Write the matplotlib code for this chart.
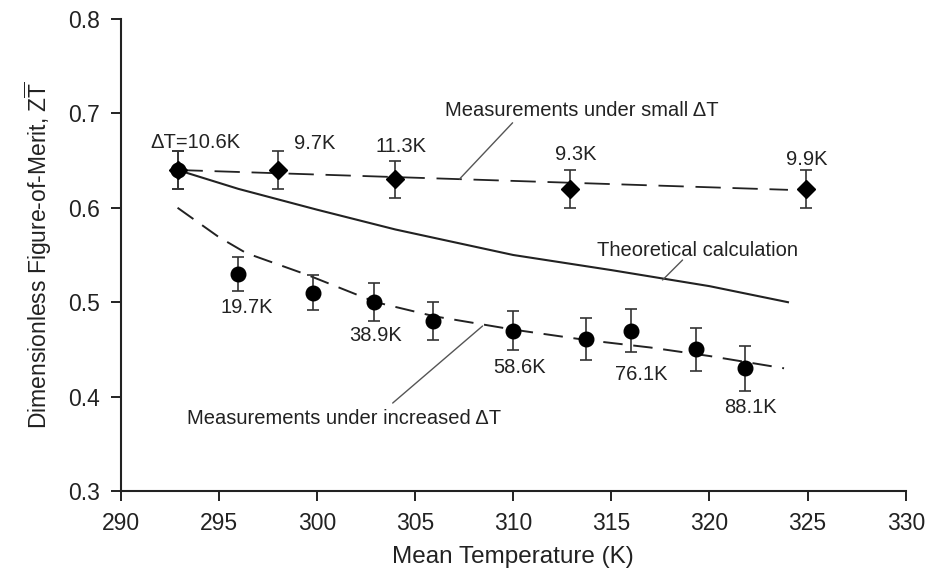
import numpy as np
import matplotlib
matplotlib.use("Agg")
import matplotlib.pyplot as plt

plt.rcParams["font.family"] = ["Liberation Sans", "DejaVu Sans"]
plt.rcParams["mathtext.fontset"] = "custom"
plt.rcParams["mathtext.rm"] = "Liberation Sans"
plt.rcParams["mathtext.it"] = "Liberation Sans"

# --- measurements under small dT (diamonds) ---
small_T = [292.9, 298.0, 304.0, 312.9, 324.9]
small_zt = [0.64, 0.64, 0.63, 0.62, 0.62]
small_err = [0.02, 0.02, 0.02, 0.02, 0.02]
small_labels = ["\u0394T=10.6K", "9.7K", "11.3K", "9.3K", "9.9K"]
small_label_T = [293.8, 299.9, 304.3, 313.2, 324.95]
small_label_zt = [0.669, 0.668, 0.665, 0.656, 0.651]

# --- measurements under increased dT (circles) ---
inc_T = [292.9, 296.0, 299.8, 302.9, 305.9, 310.0, 313.7, 316.0, 319.3, 321.8]
inc_zt = [0.64, 0.53, 0.51, 0.50, 0.48, 0.47, 0.461, 0.47, 0.45, 0.43]
inc_err = [0.02, 0.018, 0.0185, 0.02, 0.02, 0.021, 0.0225, 0.023, 0.023, 0.024]
inc_labels = ["19.7K", "38.9K", "58.6K", "76.1K", "88.1K"]
inc_label_T = [296.4, 303.0, 310.3, 316.5, 322.1]
inc_label_zt = [0.494, 0.465, 0.431, 0.423, 0.389]

# --- fitted / theoretical curves ---
small_fit_T = [292.9, 324.0]
small_fit_zt = [0.64, 0.619]
inc_fit_T = [292.9, 295.0, 296.4, 299.5, 303.0, 306.0, 310.0, 313.7, 317.0, 320.0, 323.8]
inc_fit_zt = [0.600, 0.569, 0.552, 0.529, 0.500, 0.485, 0.471, 0.460, 0.452, 0.443, 0.430]
theo_T = [292.9, 296.0, 300.0, 304.0, 310.0, 315.0, 320.0, 324.0]
theo_zt = [0.640, 0.620, 0.598, 0.577, 0.550, 0.534, 0.517, 0.500]

# --- callouts: text, text position, leader line (from, to) ---
callouts = [
    ("Measurements under small \u0394T", (313.5, 0.703), (309.97, 0.690), (307.27, 0.6305)),
    ("Theoretical calculation", (319.4, 0.555), (318.63, 0.5447), (317.61, 0.5235)),
    ("Measurements under increased \u0394T", (301.4, 0.377), (303.86, 0.3932), (308.44, 0.4748)),
]

INK = "#222222"
fig = plt.figure(figsize=(9.28, 5.73), dpi=100)
ax = fig.add_axes([0.130, 0.143, 0.846, 0.824])

ax.plot(theo_T, theo_zt, color=INK, lw=1.5)
ax.plot(small_fit_T, small_fit_zt, color=INK, lw=1.3, dashes=(14, 6.5))
ax.plot(inc_fit_T, inc_fit_zt, color=INK, lw=1.4, dashes=(10, 5.5))

ax.errorbar(inc_T, inc_zt, yerr=inc_err, fmt="o", color="black", ms=10.5,
            ecolor="#333333", elinewidth=1.2, capsize=4.5, capthick=1.2, zorder=3)
ax.errorbar(small_T, small_zt, yerr=small_err, fmt="D", color="black", ms=9,
            ecolor="#333333", elinewidth=1.2, capsize=4.5, capthick=1.2, zorder=4)

for t, z, lab in zip(small_label_T, small_label_zt, small_labels):
    ax.text(t, z, lab, ha="center", va="center", fontsize=14.5, color=INK)
for t, z, lab in zip(inc_label_T, inc_label_zt, inc_labels):
    ax.text(t, z, lab, ha="center", va="center", fontsize=14.5, color=INK)

for txt, pos, p0, p1 in callouts:
    ax.text(pos[0], pos[1], txt, ha="center", va="center", fontsize=14.5, color=INK)
    ax.annotate("", xy=p1, xytext=p0,
                arrowprops=dict(arrowstyle="-", color="#555555", lw=1.0,
                                shrinkA=0, shrinkB=0))

ax.set_xlim(290, 330)
ax.set_ylim(0.3, 0.8)
ax.set_xticks(np.arange(290, 331, 5))
yt = np.arange(0.3, 0.81, 0.1)
ax.set_yticks(yt)
ax.set_yticklabels([f"{v:.1f}" for v in yt])
ax.tick_params(labelsize=16.5, length=7, width=1.4, colors=INK)
ax.tick_params(axis="x", pad=8)
ax.tick_params(axis="y", pad=8)
ax.spines["top"].set_visible(False)
ax.spines["right"].set_visible(False)
for s in ("left", "bottom"):
    ax.spines[s].set_linewidth(1.5)
    ax.spines[s].set_color(INK)

ax.set_xlabel("Mean Temperature (K)", fontsize=17.5, color=INK, labelpad=8)
ax.set_ylabel(r"Dimensionless Figure-of-Merit, $\mathrm{Z}\overline{\mathrm{T}}$",
              fontsize=16.5, color=INK, labelpad=10)

fig.savefig("out.png", dpi=100)
